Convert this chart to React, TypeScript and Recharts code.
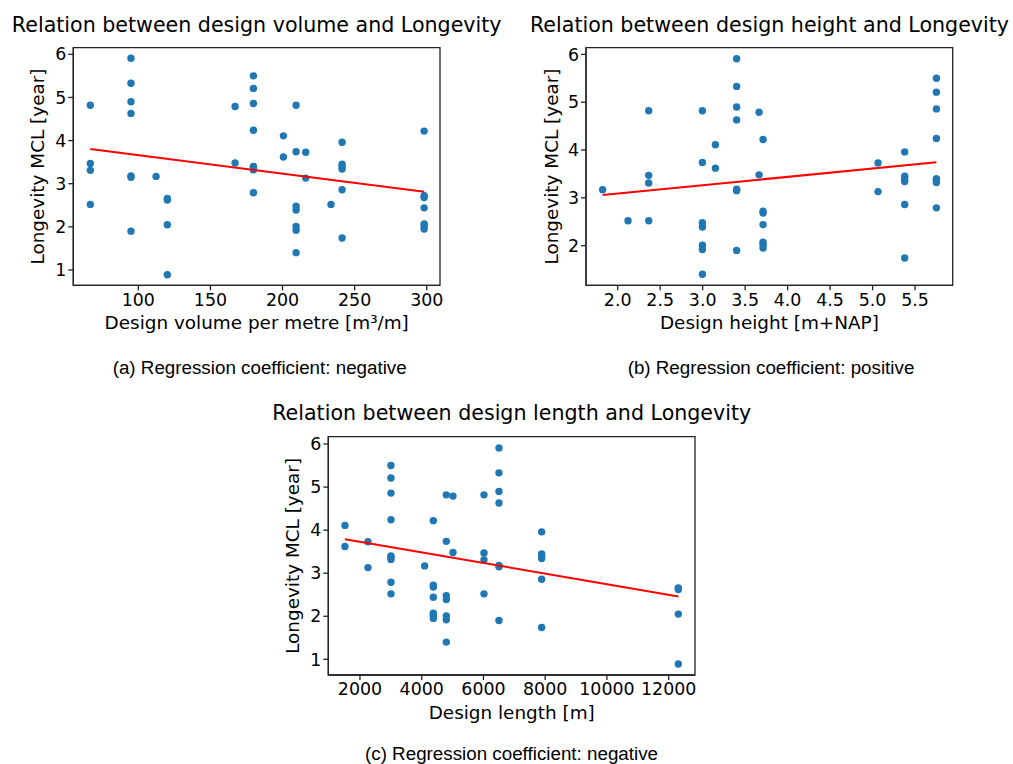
import React from 'react';
import { ScatterChart, Scatter, XAxis, YAxis, ReferenceArea } from 'recharts';

// One entry per record (site / year)
const volume = [
  66.7, 66.7, 66.7, 66.7,
  94.9, 94.9, 94.9, 94.9, 94.9, 94.9, 94.9,
  112.3,
  120.1, 120.1, 120.1, 120.1,
  167.1, 167.1,
  179.8, 179.8, 179.8, 179.8, 179.8, 179.8, 179.8, 179.8,
  200.6, 200.6,
  209.4, 209.4, 209.4, 209.4, 209.4, 209.4, 209.4,
  216.1, 216.1,
  233.6,
  241.3, 241.3, 241.3, 241.3, 241.3, 241.3,
  298.2, 298.2, 298.2, 298.2, 298.2, 298.2, 298.2,
];

const designHeight: (number | null)[] = [
  2.365, 2.365, 2.365, 2.365,
  3.4, 3.4, 3.4, 3.4, 3.4, 3.4, 3.4,
  1.823,
  null, null, null, null,
  3.664, 3.664,
  5.751, 5.751, 5.751, 5.751, 5.751, 5.751, 5.751, 5.751,
  3.15, 3.15,
  2.997, 2.997, 2.997, 2.997, 2.997, 2.997, 2.997,
  5.064, 5.064,
  2.122,
  5.378, 5.378, 5.378, 5.378, 5.378, 5.378,
  3.711, 3.711, 3.711, 3.711, 3.711, 3.711, 3.711,
];

const designLength = [
  6017, 6017, 6017, 6017,
  6503, 6503, 6503, 6503, 6503, 6503, 6503,
  4095,
  12313, 12313, 12313, 12313,
  5013, 5013,
  3004, 3004, 3004, 3004, 3004, 3004, 3004, 3004,
  1514, 1514,
  4797, 4797, 4797, 4797, 4797, 4797, 4797,
  2259, 2259,
  3004,
  7886, 7886, 7886, 7886, 7886, 7886,
  4376, 4376, 4376, 4376, 4376, 4376, 4376,
];

const longevity = [
  4.82, 3.47, 3.31, 2.52,
  5.91, 5.33, 4.9, 4.63, 3.18, 3.15, 1.9,
  3.17,
  2.66, 2.62, 2.05, 0.89,
  4.79, 3.48,
  5.5, 5.21, 4.86, 4.24, 3.4, 3.37, 3.32, 2.79,
  4.11, 3.62,
  4.82, 3.74, 2.48, 2.39, 2.01, 1.92, 1.4,
  3.73, 3.13,
  2.52,
  3.96, 3.45, 3.4, 3.34, 2.86, 1.74,
  4.22, 2.72, 2.68, 2.44, 2.07, 2.02, 1.95,
];

// Fitted regression line end points
const regVolume = [{ x: 66.7, y: 3.805 }, { x: 298.2, y: 2.816 }];
const regHeight = [{ x: 1.823, y: 3.06 }, { x: 5.751, y: 3.742 }];
const regLength = [{ x: 1514, y: 3.79 }, { x: 12313, y: 2.46 }];

const volumeTicks = [100, 150, 200, 250, 300];
const heightTicks = [2.0, 2.5, 3.0, 3.5, 4.0, 4.5, 5.0, 5.5];
const lengthTicks = [2000, 4000, 6000, 8000, 10000, 12000];
const longevityTicksA = [1, 2, 3, 4, 5, 6];
const longevityTicksB = [2, 3, 4, 5, 6];
const longevityTicksC = [1, 2, 3, 4, 5, 6];

const titles = [
  'Relation between design volume and Longevity',
  'Relation between design height and Longevity',
  'Relation between design length and Longevity',
];
const xLabels = ['Design volume per metre [m³/m]', 'Design height [m+NAP]', 'Design length [m]'];
const yLabel = 'Longevity MCL [year]';
const captions = [
  '(a) Regression coefficient: negative',
  '(b) Regression coefficient: positive',
  '(c) Regression coefficient: negative',
];

const pts = (xs: (number | null)[]) =>
  xs
    .map((x, i) => ({ x, y: longevity[i] }))
    .filter((d) => d.x !== null) as { x: number; y: number }[];

const dataVolume = pts(volume);
const dataHeight = pts(designHeight);
const dataLength = pts(designLength);

const BLUE = '#1f77b4';
const SPINE = '#222';
const FONT = 'DejaVu Sans';
const YW = 50;
const XH = 30;

type PanelProps = {
  left: number;
  top: number;
  width: number;
  height: number;
  plot: { l: number; t: number; r: number; b: number };
  data: { x: number; y: number }[];
  reg: { x: number; y: number }[];
  xDomain: [number, number];
  yDomain: [number, number];
  xTicks: number[];
  yTicks: number[];
  xFmt?: (v: number) => string;
};

function Panel(p: PanelProps) {
  const margin = {
    top: p.plot.t - p.top,
    left: p.plot.l - p.left - YW,
    right: p.left + p.width - p.plot.r,
    bottom: p.top + p.height - p.plot.b - XH,
  };
  const tickStyle = { fontSize: 17.4, fill: '#000', fontFamily: FONT };
  return (
    <div style={{ position: 'absolute', left: p.left, top: p.top }}>
      <ScatterChart width={p.width} height={p.height} margin={margin}>
        <XAxis
          type="number"
          dataKey="x"
          domain={p.xDomain}
          ticks={p.xTicks}
          allowDataOverflow
          height={XH}
          tickSize={5}
          tickMargin={3}
          tick={tickStyle}
          tickFormatter={p.xFmt}
          stroke={SPINE}
          strokeWidth={1.3}
          interval={0}
        />
        <YAxis
          type="number"
          dataKey="y"
          domain={p.yDomain}
          ticks={p.yTicks}
          allowDataOverflow
          width={YW}
          tickSize={5}
          tickMargin={2}
          tick={tickStyle}
          stroke={SPINE}
          strokeWidth={1.3}
          interval={0}
        />
        <ReferenceArea
          x1={p.xDomain[0]}
          x2={p.xDomain[1]}
          y1={p.yDomain[0]}
          y2={p.yDomain[1]}
          fill="none"
          fillOpacity={0}
          stroke={SPINE}
          strokeWidth={1.3}
          ifOverflow="visible"
        />
        <Scatter
          data={p.data}
          isAnimationActive={false}
          shape={(s: any) => <circle cx={s.cx} cy={s.cy} r={3.7} fill={BLUE} />}
        />
        <Scatter
          data={p.reg}
          isAnimationActive={false}
          line={{ stroke: '#ff0000', strokeWidth: 2 }}
          shape={() => <g />}
        />
      </ScatterChart>
    </div>
  );
}

export default function App() {
  const titleStyle = { fontFamily: FONT, fontSize: 20.6, fill: '#000' } as const;
  const labelStyle = { fontFamily: FONT, fontSize: 18.4, fill: '#000' } as const;
  const capStyle = { fontFamily: 'Liberation Sans', fontSize: 18.8, fill: '#000' } as const;
  return (
    <div
      style={{
        position: 'absolute',
        left: 0,
        top: 0,
        width: 1013,
        height: 764,
        background: '#fff',
        overflow: 'hidden',
      }}
    >
      <Panel
        left={0}
        top={0}
        width={460}
        height={330}
        plot={{ l: 73.3, t: 47.7, r: 440, b: 285.3 }}
        data={dataVolume}
        reg={regVolume}
        xDomain={[54.9, 309.2]}
        yDomain={[0.645, 6.153]}
        xTicks={volumeTicks}
        yTicks={longevityTicksA}
      />
      <Panel
        left={505}
        top={0}
        width={470}
        height={330}
        plot={{ l: 586, t: 47.7, r: 952.7, b: 285.3 }}
        data={dataHeight}
        reg={regHeight}
        xDomain={[1.627, 5.943]}
        yDomain={[1.17, 6.14]}
        xTicks={heightTicks}
        yTicks={longevityTicksB}
        xFmt={(v: number) => v.toFixed(1)}
      />
      <Panel
        left={260}
        top={390}
        width={460}
        height={330}
        plot={{ l: 328.3, t: 436.7, r: 695, b: 675 }}
        data={dataLength}
        reg={regLength}
        xDomain={[974, 12853]}
        yDomain={[0.636, 6.17]}
        xTicks={lengthTicks}
        yTicks={longevityTicksC}
      />
      <svg
        width={1013}
        height={764}
        style={{ position: 'absolute', left: 0, top: 0, pointerEvents: 'none' }}
      >
        <text x={256.7} y={31.5} textAnchor="middle" style={titleStyle}>{titles[0]}</text>
        <text x={769.5} y={31.5} textAnchor="middle" style={titleStyle}>{titles[1]}</text>
        <text x={511.7} y={420} textAnchor="middle" style={titleStyle}>{titles[2]}</text>

        <text x={256.7} y={328.5} textAnchor="middle" style={labelStyle}>{xLabels[0]}</text>
        <text x={769.4} y={328.5} textAnchor="middle" style={labelStyle}>{xLabels[1]}</text>
        <text x={511.7} y={718.5} textAnchor="middle" style={labelStyle}>{xLabels[2]}</text>

        <text transform="translate(44,166.5) rotate(-90)" textAnchor="middle" style={labelStyle}>{yLabel}</text>
        <text transform="translate(557.7,166.5) rotate(-90)" textAnchor="middle" style={labelStyle}>{yLabel}</text>
        <text transform="translate(299,555.9) rotate(-90)" textAnchor="middle" style={labelStyle}>{yLabel}</text>

        <text x={259.7} y={374} textAnchor="middle" style={capStyle}>{captions[0]}</text>
        <text x={771} y={374} textAnchor="middle" style={capStyle}>{captions[1]}</text>
        <text x={511.5} y={759.5} textAnchor="middle" style={capStyle}>{captions[2]}</text>
      </svg>
    </div>
  );
}
